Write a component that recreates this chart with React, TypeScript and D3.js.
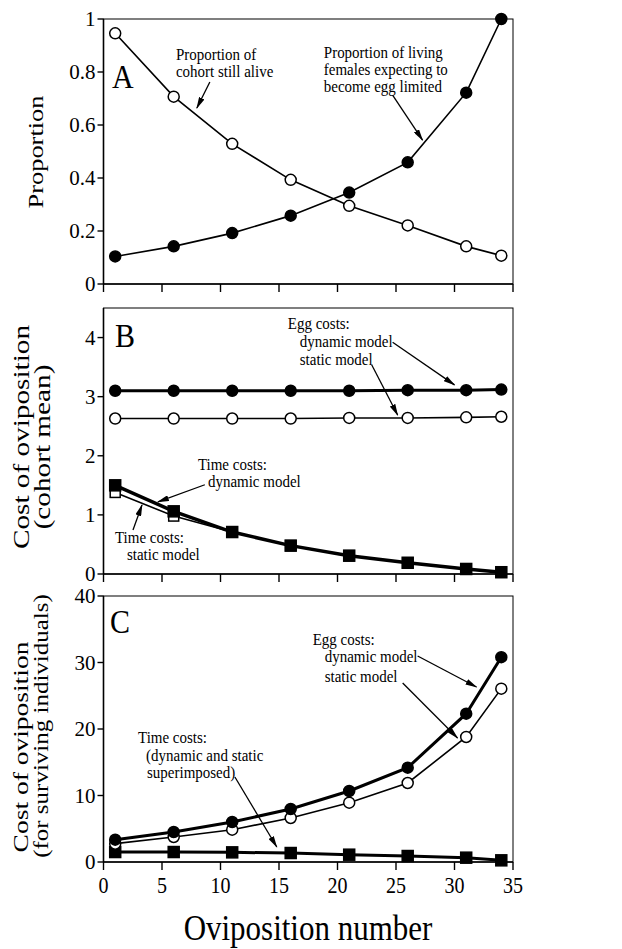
import React from 'react';
import * as d3 from 'd3';

const WIDTH = 622;
const HEIGHT = 949;
const SERIF = '"Liberation Serif", "Times New Roman", Times, serif';

// oviposition numbers shared by all series
const ovipositionNumber = [1, 6, 11, 16, 21, 26, 31, 34];
const xTicks = [0, 5, 10, 15, 20, 25, 30, 35];

// panel A
const propAlive = [0.946, 0.707, 0.529, 0.393, 0.295, 0.221, 0.142, 0.107];
const propEggLimited = [0.104, 0.142, 0.192, 0.258, 0.345, 0.459, 0.722, 1.0];
const yTicksA = [0, 0.2, 0.4, 0.6, 0.8, 1];

// panel B (cohort mean)
const eggDynamicB = [3.1, 3.1, 3.1, 3.1, 3.1, 3.11, 3.11, 3.12];
const eggStaticB = [2.63, 2.63, 2.63, 2.63, 2.64, 2.64, 2.65, 2.66];
const timeDynamicB = [1.5, 1.06, 0.71, 0.48, 0.31, 0.19, 0.085, 0.03];
const timeStaticB = [1.38, 0.98, 0.71, 0.48, 0.31, 0.19, 0.085, 0.03];
const yTicksB = [0, 1, 2, 3, 4];

// panel C (surviving individuals)
const eggDynamicC = [3.36, 4.51, 6.02, 7.97, 10.68, 14.19, 22.3, 30.8];
const eggStaticC = [2.76, 3.76, 4.86, 6.62, 8.92, 11.88, 18.8, 26.07];
const timeC = [1.5, 1.5, 1.45, 1.35, 1.1, 0.9, 0.65, 0.25];
const yTicksC = [0, 10, 20, 30, 40];

const x = d3.scaleLinear().domain([0, 35]).range([103.5, 513]);

function Axes({ y, ticks, showX }) {
  const [y0, y1] = y.range();
  const [x0, x1] = x.range();
  return (
    <g stroke="#000">
      <rect x={x0} y={y1} width={x1 - x0} height={y0 - y1} fill="none" strokeWidth={1} />
      <line x1={x0} x2={x0} y1={y1} y2={y0} strokeWidth={1.6} />
      <line x1={x0} x2={x1} y1={y0} y2={y0} strokeWidth={1.6} />
      {xTicks.map((t) => (
        <line key={t} x1={x(t)} x2={x(t)} y1={y0} y2={y0 + 8} strokeWidth={1.4} />
      ))}
      {ticks.map((t) => (
        <g key={t}>
          <line x1={x0 - 6} x2={x0} y1={y(t)} y2={y(t)} strokeWidth={1.4} />
          <text x={x0 - 8} y={y(t)} dy="0.35em" textAnchor="end" fontSize={21} stroke="none">
            {String(t)}
          </text>
        </g>
      ))}
      {showX &&
        xTicks.map((t) => (
          <text
            key={'l' + t}
            transform={`translate(${x(t)},${y0 + 31}) scale(1,1.15)`}
            textAnchor="middle"
            fontSize={20}
            stroke="none"
          >
            {t}
          </text>
        ))}
    </g>
  );
}

function Series({ y, values, filled, width, shape = 'circle', size = 5.5 }) {
  const line = d3
    .line<number>()
    .x((_, i) => x(ovipositionNumber[i]))
    .y((d) => y(d));
  return (
    <g>
      <path d={line(values)} fill="none" stroke="#000" strokeWidth={width} />
      {values.map((v, i) =>
        shape === 'square' ? (
          <rect
            key={i}
            x={x(ovipositionNumber[i]) - size}
            y={y(v) - size}
            width={size * 2}
            height={size * 2}
            fill={filled ? '#000' : '#fff'}
            stroke="#000"
            strokeWidth={1.5}
          />
        ) : (
          <circle
            key={i}
            cx={x(ovipositionNumber[i])}
            cy={y(v)}
            r={size}
            fill={filled ? '#000' : '#fff'}
            stroke="#000"
            strokeWidth={1.5}
          />
        )
      )}
    </g>
  );
}

// annotation block, lines given as [text, dx, dy]
function Note({ px, py, lines }) {
  return (
    <g fontSize={15}>
      {lines.map(([txt, dx, dy], i) => (
        <text key={i} transform={`translate(${px + dx},${py + dy}) scale(1,1.1)`}>
          {txt}
        </text>
      ))}
    </g>
  );
}

function Arrow({ from, to }) {
  return (
    <line
      x1={from[0]}
      y1={from[1]}
      x2={to[0]}
      y2={to[1]}
      stroke="#000"
      strokeWidth={1.3}
      markerEnd="url(#head)"
    />
  );
}

function YTitle({ xb, yc, text, size, stretch }) {
  return (
    <text
      transform={`translate(${xb},${yc}) scale(1,${stretch}) rotate(-90)`}
      textAnchor="middle"
      fontSize={size}
    >
      {text}
    </text>
  );
}

export default function App() {
  const yA = d3.scaleLinear().domain([0, 1]).range([284, 19]);
  const yB = d3.scaleLinear().domain([0, 4.5]).range([574, 308]);
  const yC = d3.scaleLinear().domain([0, 40]).range([862, 596]);
  const P = (xs, ys) => (d) => [xs(d[0]), ys(d[1])];
  const pA = P(x, yA);
  const pB = P(x, yB);
  const pC = P(x, yC);

  return (
    <svg
      width={WIDTH}
      height={HEIGHT}
      style={{ position: 'absolute', left: 0, top: 0, background: '#fff' }}
      fontFamily={SERIF}
    >
      <defs>
        <marker
          id="head"
          markerUnits="userSpaceOnUse"
          markerWidth={12}
          markerHeight={6}
          refX={11}
          refY={3}
          orient="auto"
        >
          <path d="M0,0 L12,3 L0,6 z" fill="#000" />
        </marker>
      </defs>

      {/* panel A */}
      <Axes y={yA} ticks={yTicksA} showX={false} />
      <Series y={yA} values={propAlive} filled={false} width={1.6} />
      <Series y={yA} values={propEggLimited} filled={true} width={1.6} />
      <text transform={`translate(${x(0.73)},${yA(0.74)}) scale(1,1.12)`} fontSize={30}>A</text>
      <Note px={x(6.19)} py={yA(0.845)} lines={[['Proportion of', 0, 0], ['cohort still alive', 0, 17]]} />
      <Note
        px={x(18.83)}
        py={yA(0.853)}
        lines={[['Proportion of living', 0, 0], ['females expecting to', 0, 17], ['become egg limited', 0, 34]]}
      />
      <Arrow from={pA([9.09, 0.762])} to={pA([7.98, 0.664])} />
      <Arrow from={pA([24.71, 0.713])} to={pA([27.27, 0.543])} />
      <YTitle xb={43} yc={152} text="Proportion" size={20.5} stretch={1.29} />

      {/* panel B */}
      <Axes y={yB} ticks={yTicksB} showX={false} />
      <Series y={yB} values={eggStaticB} filled={false} width={1.6} />
      <Series y={yB} values={eggDynamicB} filled={true} width={3} />
      <Series y={yB} values={timeStaticB} filled={false} width={1.6} shape="square" size={5} />
      <Series y={yB} values={timeDynamicB} filled={true} width={3.5} shape="square" size={5.5} />
      <text transform={`translate(${x(0.98)},${yB(3.84)}) scale(1,1.12)`} fontSize={30}>B</text>
      <Note
        px={x(15.75)}
        py={yB(4.14)}
        lines={[['Egg costs:', 0, 0], ['dynamic model', 12, 18], ['static model', 12, 36]]}
      />
      <Arrow from={pB([24.71, 3.92])} to={pB([30.0, 3.2])} />
      <Arrow from={pB([22.92, 3.54])} to={pB([25.14, 2.69])} />
      <Note px={x(8.07)} py={yB(1.76)} lines={[['Time costs:', 0, 0], ['dynamic model', 10, 17]]} />
      <Arrow from={pB([8.66, 1.51])} to={pB([4.65, 1.22])} />
      <Note px={x(0.98)} py={yB(0.52)} lines={[['Time costs:', 0, 0], ['static model', 12, 17]]} />
      <Arrow from={pB([2.52, 0.744])} to={pB([3.29, 1.167])} />
      <YTitle xb={29} yc={437} text="Cost of oviposition" size={22.5} stretch={1.3} />
      <YTitle xb={50} yc={447} text="(cohort mean)" size={22.5} stretch={1.3} />

      {/* panel C */}
      <Axes y={yC} ticks={yTicksC} showX={true} />
      <Series y={yC} values={timeC} filled={true} width={3} shape="square" size={5.5} />
      <Series y={yC} values={eggStaticC} filled={false} width={1.6} size={5.5} />
      <Series y={yC} values={eggDynamicC} filled={true} width={3} size={5.5} />
      <text transform={`translate(${x(0.55)},${yC(34.4)}) scale(1,1.12)`} fontSize={30}>C</text>
      <Note
        px={x(17.88)}
        py={yC(32.6)}
        lines={[['Egg costs:', 0, 0], ['dynamic model', 12, 17], ['static model', 12, 37]]}
      />
      <Arrow from={pC([26.85, 30.98])} to={pC([31.88, 26.32])} />
      <Arrow from={pC([25.57, 26.92])} to={pC([30.26, 18.65])} />
      <Note
        px={x(2.95)}
        py={yC(17.9)}
        lines={[['Time costs:', 0, 0], ['(dynamic and static', 8, 18], ['superimposed)', 9, 35]]}
      />
      <Arrow from={pC([11.23, 12.78])} to={pC([14.81, 2.26])} />
      <YTitle xb={28} yc={747} text="Cost of oviposition" size={22} stretch={1.25} />
      <YTitle xb={48} yc={726} text="(for surviving individuals)" size={21} stretch={1.19} />

      <text transform={`translate(308,940) scale(1,1.13)`} textAnchor="middle" fontSize={31}>
        Oviposition number
      </text>
    </svg>
  );
}
